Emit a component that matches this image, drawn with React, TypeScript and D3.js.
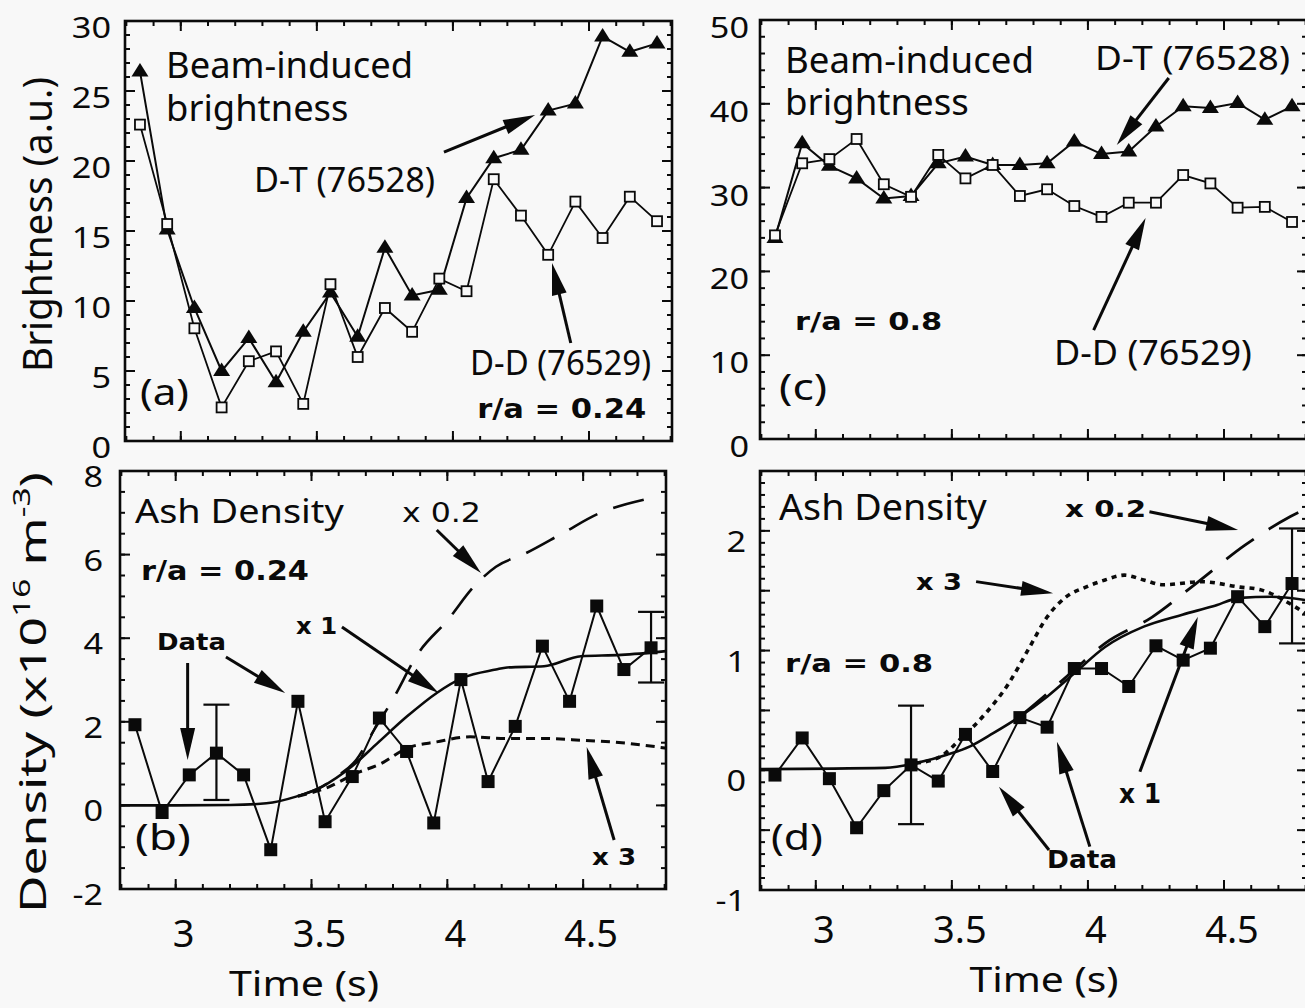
import React, { useLayoutEffect, useRef, useState } from 'react';
import * as d3 from 'd3';

const SANS = "'Noto Sans', 'Open Sans', 'DejaVu Sans', sans-serif";
const BOLD = "'DejaVu Sans', 'Noto Sans', sans-serif";
const BG = '#f8f8f8';
const INK = '#0a0a0a';

// ---------- data ----------
const times = [2.85, 2.95, 3.05, 3.15, 3.25, 3.35, 3.45, 3.55, 3.65, 3.75, 3.85, 3.95, 4.05, 4.15, 4.25, 4.35, 4.45, 4.55, 4.65, 4.75];
const timeDomain = [2.795, 4.805];
const xMajor = [3, 3.5, 4, 4.5];
const xMajorLabels = ['3', '3.5', '4', '4.5'];

// (a) brightness r/a = 0.24
const aDT = [26.4, 15.1, 9.5, 5.0, 7.35, 4.2, 7.8, 10.6, 7.45, 13.8, 10.4, 10.8, 17.35, 20.2, 20.8, 23.6, 24.1, 28.9, 27.8, 28.4];
const aDD = [22.6, 15.5, 8.05, 2.4, 5.7, 6.4, 2.65, 11.2, 6.0, 9.5, 7.8, 11.6, 10.7, 18.7, 16.1, 13.3, 17.1, 14.5, 17.45, 15.7];
const aYTicks = [0, 5, 10, 15, 20, 25, 30];

// (b) ash density r/a = 0.24
const bData = [1.93, -0.17, 0.73, 1.25, 0.73, -1.06, 2.49, -0.39, 0.69, 2.09, 1.29, -0.42, 3.01, 0.57, 1.89, 3.81, 2.49, 4.77, 3.25, 3.77];
const bErr = [{ t: 3.15, lo: 0.13, hi: 2.41 }, { t: 4.75, lo: 2.94, hi: 4.63 }];
const bX1 = [[2.795, 0], [3.0, 0], [3.2, 0.01], [3.334, 0.05], [3.443, 0.21], [3.539, 0.45], [3.648, 0.93], [3.743, 1.49], [3.852, 2.13], [3.961, 2.69], [4.056, 3.05], [4.179, 3.25], [4.22, 3.3], [4.356, 3.33], [4.492, 3.57], [4.64, 3.6], [4.805, 3.69]];
const bX02 = [[3.45, 0.22], [3.539, 0.45], [3.6, 0.72], [3.665, 1.09], [3.73, 1.8], [3.798, 2.52], [3.893, 3.64], [4.002, 4.44], [4.097, 5.23], [4.179, 5.71], [4.288, 6.03], [4.424, 6.51], [4.56, 6.99], [4.723, 7.31]];
const bX3 = [[3.45, 0.22], [3.552, 0.41], [3.665, 0.77], [3.756, 1.0], [3.852, 1.37], [3.961, 1.52], [4.084, 1.64], [4.219, 1.6], [4.356, 1.6], [4.492, 1.56], [4.655, 1.49], [4.805, 1.37]];
const bYTicks = [-2, 0, 2, 4, 6, 8];

// (c) brightness r/a = 0.8
const cDT = [24.0, 35.3, 32.6, 31.1, 28.7, 29.0, 32.9, 33.7, 32.7, 32.7, 32.9, 35.5, 34.0, 34.3, 37.3, 39.7, 39.5, 40.1, 38.1, 39.7];
const cDD = [24.3, 32.9, 33.4, 35.8, 30.4, 28.9, 33.9, 31.1, 32.7, 29.0, 29.8, 27.8, 26.5, 28.2, 28.2, 31.5, 30.5, 27.6, 27.7, 25.9];
const cYTicks = [0, 10, 20, 30, 40, 50];

// (d) ash density r/a = 0.8
const dData = [-0.04, 0.27, -0.07, -0.48, -0.17, 0.045, -0.09, 0.3, -0.01, 0.44, 0.36, 0.85, 0.85, 0.7, 1.04, 0.92, 1.02, 1.45, 1.2, 1.56];
const dErr = [{ t: 3.35, lo: -0.45, hi: 0.54 }, { t: 4.75, lo: 1.06, hi: 2.02 }];
const dX1 = [[2.795, 0.01], [3.255, 0.02], [3.368, 0.06], [3.482, 0.13], [3.567, 0.2], [3.652, 0.31], [3.751, 0.45], [3.85, 0.615], [3.95, 0.81], [4.063, 1.03], [4.205, 1.2], [4.347, 1.3], [4.46, 1.37], [4.559, 1.44], [4.673, 1.45], [4.805, 1.42]];
const dX02 = [[3.751, 0.45], [3.85, 0.64], [3.95, 0.84], [4.063, 1.06], [4.236, 1.28], [4.397, 1.56], [4.577, 1.88], [4.744, 2.12], [4.805, 2.19]];
const dX3 = [[3.368, 0.06], [3.454, 0.11], [3.54, 0.28], [3.624, 0.475], [3.709, 0.726], [3.78, 1.005], [3.85, 1.28], [3.921, 1.45], [3.992, 1.53], [4.063, 1.59], [4.134, 1.63], [4.205, 1.59], [4.276, 1.55], [4.418, 1.575], [4.559, 1.53], [4.63, 1.51], [4.758, 1.37], [4.805, 1.3]];
const dYLabels = [-1, 0, 1, 2];

// ---------- layout ----------
const PA = { x0: 125, x1: 672, y0: 21, y1: 441 };
const PB = { x0: 120, x1: 666, y0: 471, y1: 889 };
const PC = { x0: 760, x1: 1307, y0: 20, y1: 439 };
const PD = { x0: 760, x1: 1307, y0: 471, y1: 890 };

const steps = (lo: number, hi: number, step: number) =>
  d3.range(Math.round((hi - lo) / step) + 1).map((i) => +(lo + i * step).toFixed(4));

function FitText({ x, y, size, width, sx = 1, anchor = 'start', rotate = 0, family = SANS, weight = 'normal', children }: any) {
  const ref = useRef<SVGTextElement>(null);
  const [s, setS] = useState<number>(sx);
  useLayoutEffect(() => {
    if (width == null) return;
    let alive = true;
    const measure = () => {
      const el = ref.current;
      if (!el || !alive) return;
      const w = el.getBBox().width;
      if (w > 0) setS(width / w);
    };
    measure();
    const f = (document as any).fonts;
    if (f && f.ready) f.ready.then(measure);
    return () => {
      alive = false;
    };
  }, [width, size, family]);
  return (
    <g transform={`translate(${x},${y}) rotate(${rotate}) scale(${s},1)`}>
      <text ref={ref} x={0} y={0} fontSize={size} fontFamily={family} fontWeight={weight} textAnchor={anchor} fill={INK}>
        {children}
      </text>
    </g>
  );
}

function Frame({ p, xs, ys, yMajor, yMinor }: any) {
  const xMinor = steps(2.8, 4.8, 0.1);
  const segs: any[] = [];
  xMinor.forEach((t: number, i: number) => {
    const x = xs(t);
    segs.push(<line key={'xb' + i} x1={x} x2={x} y1={p.y1} y2={p.y1 - 5} />);
    segs.push(<line key={'xt' + i} x1={x} x2={x} y1={p.y0} y2={p.y0 + 5} />);
  });
  xMajor.forEach((t: number, i: number) => {
    const x = xs(t);
    segs.push(<line key={'Xb' + i} x1={x} x2={x} y1={p.y1} y2={p.y1 - 10} />);
    segs.push(<line key={'Xt' + i} x1={x} x2={x} y1={p.y0} y2={p.y0 + 10} />);
  });
  yMinor.forEach((v: number, i: number) => {
    const y = ys(v);
    segs.push(<line key={'yl' + i} x1={p.x0} x2={p.x0 + 5} y1={y} y2={y} />);
    segs.push(<line key={'yr' + i} x1={p.x1} x2={p.x1 - 5} y1={y} y2={y} />);
  });
  yMajor.forEach((v: number, i: number) => {
    const y = ys(v);
    segs.push(<line key={'Yl' + i} x1={p.x0} x2={p.x0 + 10} y1={y} y2={y} />);
    segs.push(<line key={'Yr' + i} x1={p.x1} x2={p.x1 - 10} y1={y} y2={y} />);
  });
  return (
    <g stroke={INK} fill="none">
      <g strokeWidth={2}>{segs}</g>
      <rect x={p.x0} y={p.y0} width={p.x1 - p.x0} height={p.y1 - p.y0} strokeWidth={2.6} />
    </g>
  );
}

function YLabels({ ys, vals, x, dy }: any) {
  return (
    <g>
      {vals.map((v: number) => (
        <FitText key={v} x={x} y={ys(v) + dy} size={29} sx={1.18} anchor="end">
          {String(v)}
        </FitText>
      ))}
    </g>
  );
}

function XLabels({ xs, y }: any) {
  return (
    <g>
      {xMajor.map((t: number, i: number) => (
        <text key={t} x={xs(t) + 8} y={y} fontSize={38} fontFamily={SANS} textAnchor="middle" fill={INK}>
          {xMajorLabels[i]}
        </text>
      ))}
    </g>
  );
}

function Arrow({ x1, y1, x2, y2, L = 32, W = 7.5 }: any) {
  const dx = x2 - x1;
  const dy = y2 - y1;
  const len = Math.hypot(dx, dy);
  const ux = dx / len;
  const uy = dy / len;
  const bx = x2 - ux * L;
  const by = y2 - uy * L;
  const px = -uy * W;
  const py = ux * W;
  return (
    <g>
      <line x1={x1} y1={y1} x2={bx + ux * 4} y2={by + uy * 4} stroke={INK} strokeWidth={3} />
      <polygon points={`${x2},${y2} ${bx + px},${by + py} ${bx - px},${by - py}`} fill={INK} />
    </g>
  );
}

function Tri({ x, y }: any) {
  return <path d={`M${x},${y - 8.5}L${x + 8.5},${y + 5}L${x - 8.5},${y + 5}Z`} fill={INK} />;
}
function OpenSq({ x, y }: any) {
  return <rect x={x - 5} y={y - 5} width={10} height={10} fill={BG} stroke={INK} strokeWidth={1.8} />;
}
function FillSq({ x, y }: any) {
  return <rect x={x - 6.5} y={y - 6.5} width={13} height={13} fill={INK} />;
}
function ErrBar({ x, y0, y1 }: any) {
  return (
    <g stroke={INK} strokeWidth={2.2}>
      <line x1={x} x2={x} y1={y0} y2={y1} />
      <line x1={x - 13} x2={x + 13} y1={y0} y2={y0} />
      <line x1={x - 13} x2={x + 13} y1={y1} y2={y1} />
    </g>
  );
}

export default function App() {
  const xa = d3.scaleLinear().domain(timeDomain).range([PA.x0, PA.x1]);
  const ya = d3.scaleLinear().domain([0, 30]).range([PA.y1, PA.y0]);
  const xb = d3.scaleLinear().domain(timeDomain).range([PB.x0, PB.x1]);
  const yb = d3.scaleLinear().domain([-2, 8]).range([PB.y1, PB.y0]);
  const xc = d3.scaleLinear().domain(timeDomain).range([PC.x0, PC.x1]);
  const yc = d3.scaleLinear().domain([0, 50]).range([PC.y1, PC.y0]);
  const xd = d3.scaleLinear().domain(timeDomain).range([PD.x0, PD.x1]);
  const yd = d3.scaleLinear().domain([-1, 2.5]).range([PD.y1, PD.y0]);

  const series = (xs: any, ys: any) =>
    d3
      .line<number>()
      .x((_d, i) => xs(times[i]))
      .y((d) => ys(d));
  const curve = (xs: any, ys: any) =>
    d3
      .line<number[]>()
      .x((d) => xs(d[0]))
      .y((d) => ys(d[1]))
      .curve(d3.curveMonotoneX);

  const A = (xs: any, ys: any, t0: number, v0: number, t1: number, v1: number, k: string) => (
    <Arrow key={k} x1={xs(t0)} y1={ys(v0)} x2={xs(t1)} y2={ys(v1)} />
  );

  return (
    <svg width={1305} height={1008} style={{ position: 'absolute', left: 0, top: 0, display: 'block' }}>
      <rect x={0} y={0} width={1305} height={1008} fill={BG} />

      {/* ---------- panel (a) ---------- */}
      <Frame p={PA} xs={xa} ys={ya} yMajor={aYTicks} yMinor={steps(0, 30, 1)} />
      <YLabels ys={ya} vals={aYTicks} x={111} dy={17} />
      <path d={series(xa, ya)(aDT) || ''} fill="none" stroke={INK} strokeWidth={2} />
      {aDT.map((v, i) => (
        <Tri key={'adt' + i} x={xa(times[i])} y={ya(v)} />
      ))}
      <path d={series(xa, ya)(aDD) || ''} fill="none" stroke={INK} strokeWidth={1.8} />
      {aDD.map((v, i) => (
        <OpenSq key={'add' + i} x={xa(times[i])} y={ya(v)} />
      ))}
      <FitText x={xa(2.946)} y={ya(25.93)} size={36} width={247}>
        <tspan x={0}>Beam-induced</tspan>
        <tspan x={0} dy={43}>brightness</tspan>
      </FitText>
      <FitText x={xa(3.269)} y={ya(17.79)} size={34} width={181}>D-T (76528)</FitText>
      <FitText x={xa(4.063)} y={ya(4.71)} size={34} width={181}>D-D (76529)</FitText>
      <FitText x={xa(4.089)} y={ya(1.64)} size={27} width={169} family={BOLD} weight="bold">r/a = 0.24</FitText>
      <FitText x={xa(2.85)} y={ya(2.57)} size={36} width={49}>(a)</FitText>
      {A(xa, ya, 3.967, 20.64, 4.302, 23.29, 'a1')}
      {A(xa, ya, 4.433, 7.0, 4.364, 12.71, 'a2')}

      {/* ---------- panel (b) ---------- */}
      <Frame p={PB} xs={xb} ys={yb} yMajor={bYTicks} yMinor={steps(-2, 8, 0.5)} />
      <YLabels ys={yb} vals={bYTicks} x={103} dy={16} />
      <XLabels xs={xb} y={947} />
      <FitText x={(PB.x0 + PB.x1) / 2 - 89} y={996} size={34} width={150} anchor="middle">Time (s)</FitText>
      <path d={curve(xb, yb)(bX02) || ''} fill="none" stroke={INK} strokeWidth={2.6} strokeDasharray="32 17" />
      <path d={curve(xb, yb)(bX3) || ''} fill="none" stroke={INK} strokeWidth={3} strokeDasharray="9 6" />
      <path d={curve(xb, yb)(bX1) || ''} fill="none" stroke={INK} strokeWidth={2.6} />
      <path d={series(xb, yb)(bData) || ''} fill="none" stroke={INK} strokeWidth={2} />
      {bErr.map((e, i) => (
        <ErrBar key={'be' + i} x={xb(e.t)} y0={yb(e.hi)} y1={yb(e.lo)} />
      ))}
      {bData.map((v, i) => (
        <FillSq key={'bd' + i} x={xb(times[i])} y={yb(v)} />
      ))}
      <FitText x={xb(2.85)} y={yb(6.756)} size={32} width={209}>Ash Density</FitText>
      <FitText x={xb(2.872)} y={yb(5.392)} size={27} width={168} family={BOLD} weight="bold">r/a = 0.24</FitText>
      <FitText x={xb(3.833)} y={yb(6.78)} size={26} width={79} family={BOLD}>x 0.2</FitText>
      <FitText x={xb(3.443)} y={yb(4.1)} size={23} width={41} family={BOLD} weight="bold">x 1</FitText>
      <FitText x={xb(2.931)} y={yb(3.718)} size={23} width={69} family={BOLD} weight="bold">Data</FitText>
      <FitText x={xb(2.85)} y={yb(-1.067)} size={36} width={56}>(b)</FitText>
      <FitText x={xb(4.533)} y={yb(-1.426)} size={23} width={44} family={BOLD} weight="bold">x 3</FitText>
      {A(xb, yb, 3.961, 6.589, 4.124, 5.56, 'b1')}
      {A(xb, yb, 3.612, 4.268, 3.968, 2.689, 'b2')}
      {A(xb, yb, 3.044, 3.407, 3.044, 1.086, 'b3')}
      {A(xb, yb, 3.185, 3.55, 3.403, 2.689, 'b4')}
      {A(xb, yb, 4.614, -0.828, 4.513, 1.397, 'b5')}

      {/* ---------- panel (c) ---------- */}
      <Frame p={PC} xs={xc} ys={yc} yMajor={cYTicks} yMinor={steps(0, 50, 2)} />
      <YLabels ys={yc} vals={cYTicks} x={749} dy={18} />
      <path d={series(xc, yc)(cDT) || ''} fill="none" stroke={INK} strokeWidth={2} />
      {cDT.map((v, i) => (
        <Tri key={'cdt' + i} x={xc(times[i])} y={yc(v)} />
      ))}
      <path d={series(xc, yc)(cDD) || ''} fill="none" stroke={INK} strokeWidth={1.8} />
      {cDD.map((v, i) => (
        <OpenSq key={'cdd' + i} x={xc(times[i])} y={yc(v)} />
      ))}
      <FitText x={xc(2.887)} y={yc(43.68)} size={36} width={249}>
        <tspan x={0}>Beam-induced</tspan>
        <tspan x={0} dy={42}>brightness</tspan>
      </FitText>
      <FitText x={xc(4.026)} y={yc(44.03)} size={33} width={195}>D-T (76528)</FitText>
      <FitText x={xc(2.924)} y={yc(13.0)} size={25} width={147} family={BOLD} weight="bold">r/a = 0.8</FitText>
      <FitText x={xc(3.875)} y={yc(8.83)} size={34} width={198}>D-D (76529)</FitText>
      <FitText x={xc(2.865)} y={yc(4.65)} size={36} width={48}>(c)</FitText>
      {A(xc, yc, 4.297, 43.08, 4.106, 35.08, 'c1')}
      {A(xc, yc, 4.021, 13.0, 4.212, 26.37, 'c2')}

      {/* ---------- panel (d) ---------- */}
      <Frame p={PD} xs={xd} ys={yd} yMajor={steps(-1, 2.5, 0.5)} yMinor={steps(-1, 2.5, 0.1)} />
      <YLabels ys={yd} vals={dYLabels} x={746} dy={21} />
      <XLabels xs={xd} y={943} />
      <FitText x={1044} y={992} size={34} width={149} anchor="middle">Time (s)</FitText>
      <path d={curve(xd, yd)(dX02) || ''} fill="none" stroke={INK} strokeWidth={2.8} strokeDasharray="34 18" />
      <path d={curve(xd, yd)(dX3) || ''} fill="none" stroke={INK} strokeWidth={3.6} strokeDasharray="5 5" />
      <path d={curve(xd, yd)(dX1) || ''} fill="none" stroke={INK} strokeWidth={2.6} />
      <path d={series(xd, yd)(dData) || ''} fill="none" stroke={INK} strokeWidth={2} />
      {dErr.map((e, i) => (
        <ErrBar key={'de' + i} x={xd(e.t)} y0={yd(e.hi)} y1={yd(e.lo)} />
      ))}
      {dData.map((v, i) => (
        <FillSq key={'dd' + i} x={xd(times[i])} y={yd(v)} />
      ))}
      <FitText x={xd(2.865)} y={yd(2.091)} size={36} width={208}>Ash Density</FitText>
      <FitText x={xd(3.916)} y={yd(2.116)} size={23} width={81} family={BOLD} weight="bold">x 0.2</FitText>
      <FitText x={xd(3.368)} y={yd(1.506)} size={23} width={46} family={BOLD} weight="bold">x 3</FitText>
      <FitText x={xd(2.887)} y={yd(0.821)} size={24} width={148} family={BOLD} weight="bold">r/a = 0.8</FitText>
      <FitText x={xd(2.835)} y={yd(-0.666)} size={36} width={52}>(d)</FitText>
      <FitText x={xd(3.85)} y={yd(-0.816)} size={24} width={70} family={BOLD} weight="bold">Data</FitText>
      <FitText x={xd(4.114)} y={yd(-0.273)} size={26} width={42} family={BOLD} weight="bold">x 1</FitText>
      {A(xd, yd, 4.226, 2.16, 4.552, 2.008, 'd1')}
      {A(xd, yd, 3.589, 1.576, 3.872, 1.479, 'd2')}
      {A(xd, yd, 3.857, -0.666, 3.673, -0.137, 'd3')}
      {A(xd, yd, 4.007, -0.638, 3.886, 0.238, 'd4')}
      {A(xd, yd, 4.191, -0.012, 4.404, 1.282, 'd5')}

      {/* ---------- axis titles ---------- */}
      <FitText x={52} y={224.5} size={40} width={295} rotate={-90} anchor="middle">Brightness (a.u.)</FitText>
      <FitText x={46} y={692.5} size={37} width={441} rotate={-90} anchor="middle">
        <tspan>Density (x10</tspan>
        <tspan dy={-16} fontSize={24}>16</tspan>
        <tspan dy={16}> m</tspan>
        <tspan dy={-16} fontSize={24}>-3</tspan>
        <tspan dy={16}>)</tspan>
      </FitText>
    </svg>
  );
}
